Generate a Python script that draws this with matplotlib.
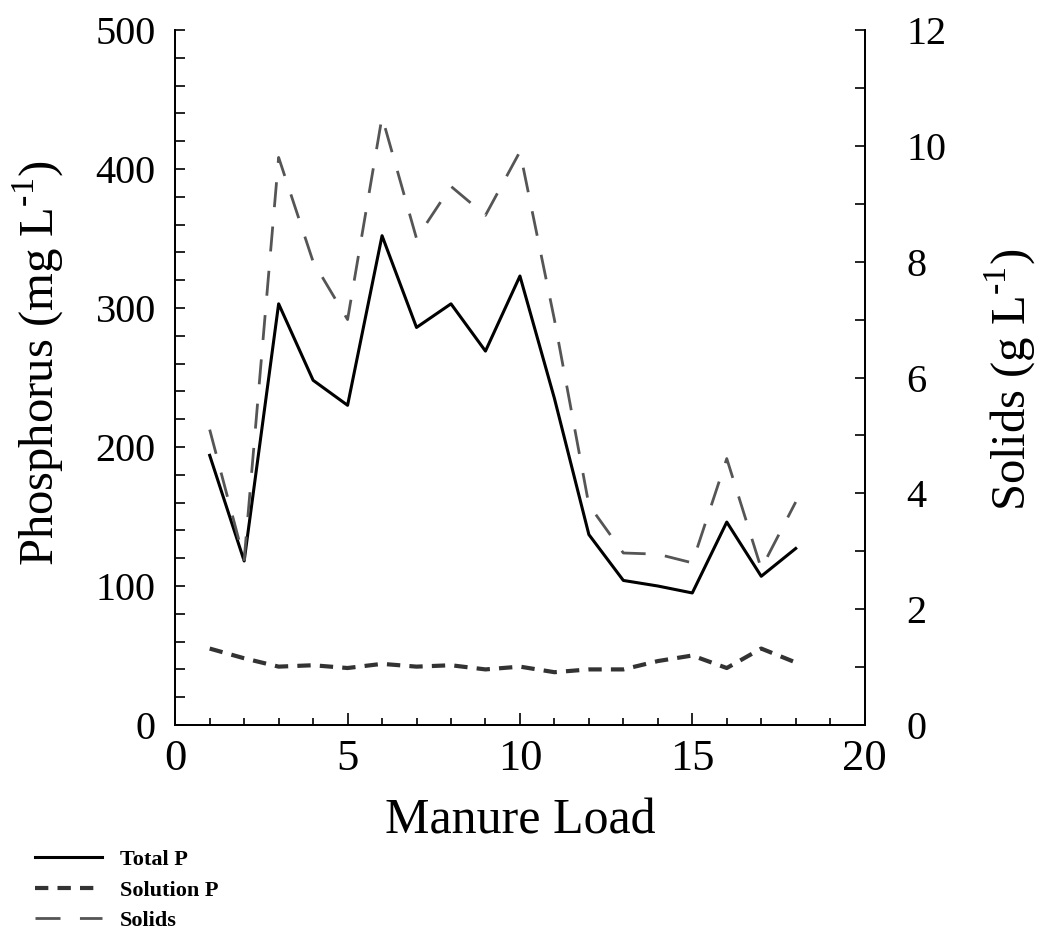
import matplotlib
matplotlib.use("Agg")
import matplotlib.pyplot as plt
from matplotlib.ticker import MultipleLocator

plt.rcParams['font.family'] = ['Liberation Serif', 'DejaVu Serif']
plt.rcParams['mathtext.fontset'] = 'custom'
plt.rcParams['mathtext.rm'] = 'Liberation Serif'

# manure load number
load = [1, 2, 3, 4, 5, 6, 7, 8, 9, 10, 11, 12, 13, 14, 15, 16, 17, 18]
# mg/L
total_p = [194, 118, 303, 248, 230, 352, 286, 303, 269, 323, 235, 137,
           104, 100, 95, 146, 107, 127]
solution_p = [55, 48, 42, 43, 41, 44, 42, 43, 40, 42, 38, 40,
              40, 46, 50, 41, 55, 45]
# g/L
solids = [5.1, 2.85, 9.8, 8.0, 7.0, 10.5, 8.4, 9.3, 8.8, 9.9, 7.0, 3.8,
          2.97, 2.95, 2.8, 4.6, 2.7, 3.85]

fig = plt.figure(figsize=(10.43, 9.46), dpi=100)
ax = fig.add_axes([0.168, 0.2336, 0.661, 0.7347])
ax2 = ax.twinx()

l1, = ax.plot(load, total_p, color='black', lw=2.2)
l2, = ax.plot(load, solution_p, color='#333333', lw=3, dashes=(3.2, 2.2))
l3, = ax2.plot(load, solids, color='#555555', lw=2, dashes=(9, 7))

ax.set_xlim(0, 20)
ax.set_ylim(0, 500)
ax2.set_ylim(0, 12)

ax.xaxis.set_major_locator(MultipleLocator(5))
ax.xaxis.set_minor_locator(MultipleLocator(1))
ax.yaxis.set_major_locator(MultipleLocator(100))
ax.yaxis.set_minor_locator(MultipleLocator(20))
ax2.yaxis.set_major_locator(MultipleLocator(2))
ax2.yaxis.set_minor_locator(MultipleLocator(1))

ax.tick_params(axis='x', which='major', direction='in', length=9, width=1.2,
               labelsize=32, pad=10, top=False)
ax.tick_params(axis='x', which='minor', direction='in', length=5, width=1.2, top=False)
ax.tick_params(axis='y', which='both', direction='in', length=7, width=1.2,
               labelsize=29, pad=14)
ax2.tick_params(axis='y', which='both', direction='in', length=7, width=1.2,
                labelsize=29, pad=30)

for a in (ax, ax2):
    for s in a.spines.values():
        s.set_linewidth(1.3)
ax.spines['top'].set_visible(False)
ax2.spines['top'].set_visible(False)

ax.set_xlabel('Manure Load', fontsize=36)
ax.xaxis.set_label_coords(0.5, -0.105)
ax.set_ylabel('Phosphorus (mg L$^{\\text{-1}}$)', fontsize=35)
ax.yaxis.set_label_coords(-0.158, 0.52)
ax2.set_ylabel('Solids (g L$^{\\text{-1}}$)', fontsize=35)
ax2.yaxis.set_label_coords(1.172, 0.497)

fig.legend([l1, l2, l3], ['Total P', 'Solution P', 'Solids'],
           loc='upper left', bbox_to_anchor=(0.034, 0.102), frameon=False,
           prop={'family': 'Liberation Serif', 'weight': 'bold', 'size': 16},
           handlelength=3.0, handletextpad=0.8, labelspacing=0.45,
           borderaxespad=0, borderpad=0)

fig.savefig('out.png', dpi=100)
